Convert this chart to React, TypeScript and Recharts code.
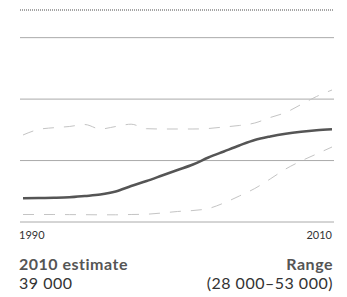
import React from "react";
import { LineChart, Line, XAxis, YAxis, ReferenceLine } from "recharts";

const years = [1990, 1991, 1992, 1993, 1994, 1995, 1996, 1997, 1998, 1999, 2000, 2001, 2002, 2003, 2004, 2005, 2006, 2007, 2008, 2009, 2010];
const estimate = [7.71, 7.81, 7.88, 8.04, 8.46, 8.95, 9.93, 11.72, 13.34, 15.13, 16.92, 18.71, 20.99, 22.95, 24.9, 26.69, 27.83, 28.71, 29.36, 29.85, 30.17];
const upper = [28.32, 30.11, 30.69, 31.08, 31.73, 30.27, 31.08, 31.83, 30.37, 30.27, 30.27, 30.27, 30.43, 30.92, 31.41, 32.22, 34.01, 35.64, 38.24, 40.85, 42.96];
const lower = [2.44, 2.44, 2.44, 2.41, 2.38, 2.34, 2.34, 2.44, 2.54, 2.93, 3.42, 3.74, 4.39, 6.18, 8.46, 10.9, 14.0, 17.25, 19.85, 22.13, 24.41];
const gridValues = [0, 20, 40, 60];
const topLineValue = 69;
const xTicks = [1990, 2010];

const data = years.map((y, i) => ({ year: y, estimate: estimate[i], upper: upper[i], lower: lower[i] }));

const FONT = "Lato, 'Noto Sans', sans-serif";

const Tick = (props: any) => {
  const { x, y, payload } = props;
  const first = payload.value === xTicks[0];
  return (
    <text
      x={first ? x - 4 : x + 1}
      y={y}
      dy={9}
      textAnchor={first ? "start" : "end"}
      fontSize={11}
      fontFamily={FONT}
      fill="#333"
    >
      {payload.value}
    </text>
  );
};

const block: React.CSSProperties = { position: "absolute", top: 253.5, fontSize: 16, lineHeight: "19.5px", letterSpacing: "0.5px", whiteSpace: "nowrap", color: "#333" };

export default function App() {
  return (
    <div style={{ position: "absolute", left: 0, top: 0, width: 347, height: 297, background: "#fff", fontFamily: FONT }}>
      <LineChart width={347} height={245} data={data} margin={{ top: 10, right: 13, left: 20, bottom: 0 }}>
        <XAxis
          dataKey="year"
          type="number"
          domain={[1990, 2010]}
          ticks={xTicks}
          padding={{ left: 3, right: 2 }}
          axisLine={false}
          tickLine={false}
          height={23}
          tick={<Tick />}
        />
        <YAxis hide domain={[0, topLineValue]} />
        {gridValues.map((v) => (
          <ReferenceLine key={v} y={v} stroke="#aaa" strokeWidth={1} />
        ))}
        <ReferenceLine y={topLineValue} stroke="#888" strokeWidth={1.5} strokeDasharray="1 1" />
        <Line type="monotone" dataKey="upper" stroke="#c4c4c4" strokeWidth={1} strokeDasharray="11 10" dot={false} isAnimationActive={false} />
        <Line type="monotone" dataKey="lower" stroke="#c4c4c4" strokeWidth={1} strokeDasharray="11 10" dot={false} isAnimationActive={false} />
        <Line type="monotone" dataKey="estimate" stroke="#555" strokeWidth={2.5} dot={false} isAnimationActive={false} />
      </LineChart>
      <div style={{ ...block, left: 19 }}>
        <span style={{ fontWeight: 700, color: "#555" }}>2010 estimate</span>
        <br />
        <span>39 000</span>
      </div>
      <div style={{ ...block, right: 14, textAlign: "right" }}>
        <span style={{ fontWeight: 700, color: "#555" }}>Range</span>
        <br />
        <span>(28 000–53 000)</span>
      </div>
    </div>
  );
}
